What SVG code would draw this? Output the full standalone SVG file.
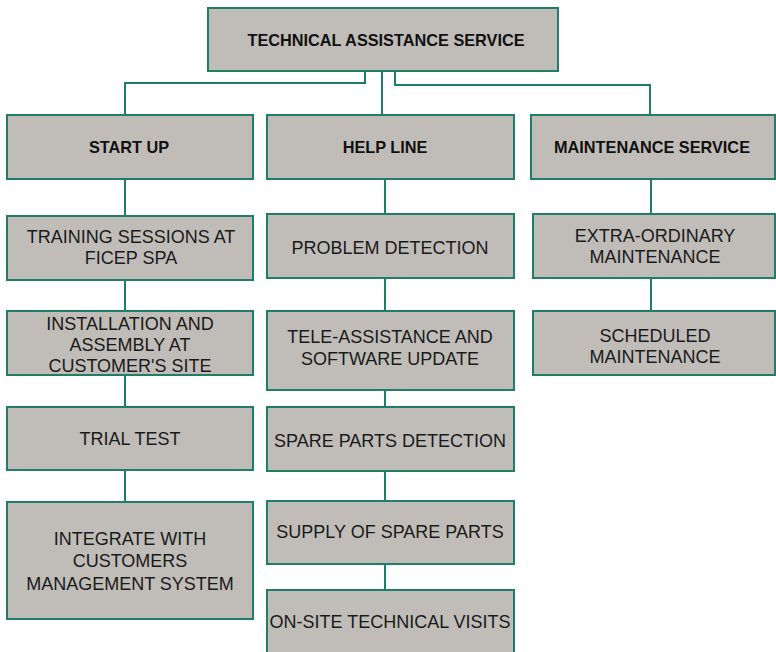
<svg xmlns="http://www.w3.org/2000/svg" width="776" height="652" viewBox="0 0 776 652">
<style>
.box{fill:#c0bdb8;stroke:#1f7d69;stroke-width:2}
.con{fill:none;stroke:#1f7d69;stroke-width:2}
.h{font-family:"Liberation Sans",Arial,sans-serif;font-weight:bold;font-size:16.3px;fill:#111;text-anchor:middle}
.t{font-family:"Liberation Sans",Arial,sans-serif;font-size:18px;fill:#1a1a1a;text-anchor:middle}
</style>
<rect width="776" height="652" fill="#ffffff"/>
<g id="connectors">
<path class="con" d="M365,71 V83 H125 V115"/>
<path class="con" d="M382,71 V115"/>
<path class="con" d="M395,71 V85 H650 V115"/>
<path class="con" d="M125,179 V216 M125,280 V311 M125,375 V407 M125,470 V502"/>
<path class="con" d="M385,179 V214 M385,278 V311 M385,390 V407 M385,471 V501 M385,564 V590"/>
<path class="con" d="M651,179 V214 M651,278 V311"/>
</g>
<g id="tas"><rect class="box" x="208" y="8" width="350" height="63"/><text class="h" x="386" y="46">TECHNICAL ASSISTANCE SERVICE</text></g>
<g id="startup"><rect class="box" x="7" y="115" width="246" height="64"/><text class="h" x="129" y="153">START UP</text></g>
<g id="helpline"><rect class="box" x="267" y="115" width="247" height="64"/><text class="h" x="385" y="153">HELP LINE</text></g>
<g id="maintenance"><rect class="box" x="531" y="115" width="244" height="64"/><text class="h" x="652" y="153">MAINTENANCE SERVICE</text></g>
<g id="training"><rect class="box" x="7" y="216" width="246" height="64"/><text class="t" x="131" y="243">TRAINING SESSIONS AT</text><text class="t" x="131" y="264">FICEP SPA</text></g>
<g id="installation"><rect class="box" x="7" y="311" width="246" height="64"/><text class="t" x="130" y="330">INSTALLATION AND</text><text class="t" x="130" y="351">ASSEMBLY AT</text><text class="t" x="130" y="372">CUSTOMER'S SITE</text></g>
<g id="trial"><rect class="box" x="7" y="407" width="246" height="63"/><text class="t" x="130" y="445">TRIAL TEST</text></g>
<g id="integrate"><rect class="box" x="7" y="502" width="246" height="117"/><text class="t" x="130" y="545">INTEGRATE WITH</text><text class="t" x="130" y="567">CUSTOMERS</text><text class="t" x="130" y="590">MANAGEMENT SYSTEM</text></g>
<g id="problem"><rect class="box" x="267" y="214" width="247" height="64"/><text class="t" x="390" y="254">PROBLEM DETECTION</text></g>
<g id="tele"><rect class="box" x="267" y="311" width="247" height="79"/><text class="t" x="390" y="343">TELE-ASSISTANCE AND</text><text class="t" x="390" y="365">SOFTWARE UPDATE</text></g>
<g id="sparedet"><rect class="box" x="267" y="407" width="247" height="64"/><text class="t" x="390" y="447">SPARE PARTS DETECTION</text></g>
<g id="supply"><rect class="box" x="267" y="501" width="247" height="63"/><text class="t" x="390" y="538">SUPPLY OF SPARE PARTS</text></g>
<g id="onsite"><rect class="box" x="267" y="590" width="247" height="70"/><text class="t" x="390" y="628">ON-SITE TECHNICAL VISITS</text></g>
<g id="extra"><rect class="box" x="533" y="214" width="242" height="64"/><text class="t" x="655" y="242">EXTRA-ORDINARY</text><text class="t" x="655" y="263">MAINTENANCE</text></g>
<g id="scheduled"><rect class="box" x="533" y="311" width="242" height="64"/><text class="t" x="655" y="342">SCHEDULED</text><text class="t" x="655" y="363">MAINTENANCE</text></g>
</svg>
